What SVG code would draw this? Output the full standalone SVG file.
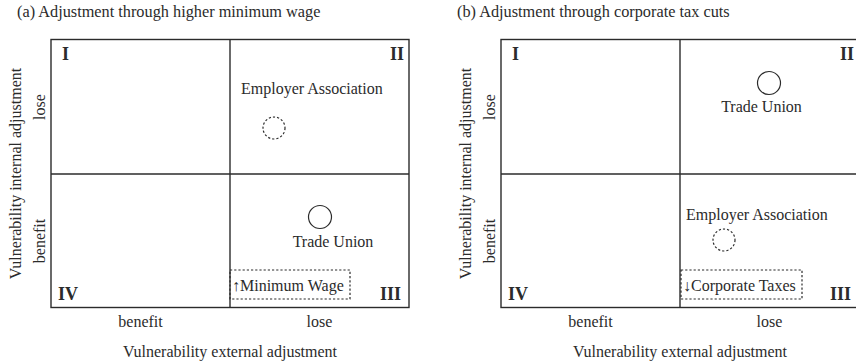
<svg xmlns="http://www.w3.org/2000/svg" width="856" height="364" viewBox="0 0 856 364">
<style>
text{font-family:"Liberation Serif","Times New Roman",serif;fill:#2b2b2b}
.t{font-size:16.3px}
.l{font-size:16px}
.n{font-size:18px;font-weight:bold}
.box{fill:none;stroke:#2b2b2b;stroke-width:1.4}
.solid{fill:none;stroke:#2b2b2b;stroke-width:1.2}
.dash{fill:none;stroke:#2b2b2b;stroke-width:1.2;stroke-dasharray:2.2 2}
.m{text-anchor:middle}
.e{text-anchor:end}
</style>
<g id="panel-a">
<text class="t" x="17" y="17">(a) Adjustment through higher minimum wage</text>
<g id="grid-a">
<rect class="box" x="51" y="39.5" width="358" height="268"/>
<line class="box" x1="230" y1="39.5" x2="230" y2="307.5"/>
<line class="box" x1="51" y1="174" x2="409" y2="174"/>
</g>
<text class="n" x="62" y="60">I</text>
<text class="n e" x="404" y="60">II</text>
<text class="n" x="58" y="300">IV</text>
<text class="n e" x="401" y="300">III</text>
<g id="employer-a">
<text class="l" x="241" y="94">Employer Association</text>
<circle class="dash" cx="274" cy="128" r="11"/>
</g>
<g id="union-a">
<circle class="solid" cx="320" cy="217" r="11.5"/>
<text class="l m" x="333" y="247">Trade Union</text>
</g>
<g id="policy-a">
<rect class="dash" x="230" y="270" width="120" height="29"/>
<text class="l" x="232" y="291">↑Minimum Wage</text>
</g>
<text class="l m" x="140.5" y="327">benefit</text>
<text class="l m" x="319.5" y="327">lose</text>
<text class="l m" x="230" y="357">Vulnerability external adjustment</text>
<text class="l m" transform="translate(21,173.5) rotate(-90)">Vulnerability internal adjustment</text>
<text class="l m" transform="translate(45,107) rotate(-90)">lose</text>
<text class="l m" transform="translate(45,241) rotate(-90)">benefit</text>
</g>
<g id="panel-b">
<text class="t" x="457" y="17">(b) Adjustment through corporate tax cuts</text>
<g id="grid-b">
<rect class="box" x="501" y="39.5" width="358" height="268"/>
<line class="box" x1="680" y1="39.5" x2="680" y2="307.5"/>
<line class="box" x1="501" y1="174" x2="859" y2="174"/>
</g>
<text class="n" x="512" y="60">I</text>
<text class="n e" x="854" y="60">II</text>
<text class="n" x="508" y="300">IV</text>
<text class="n e" x="851" y="300">III</text>
<g id="union-b">
<circle class="solid" cx="769" cy="83" r="11.5"/>
<text class="l m" x="761.5" y="112">Trade Union</text>
</g>
<g id="employer-b">
<text class="l" x="686" y="220">Employer Association</text>
<circle class="dash" cx="724" cy="240" r="11"/>
</g>
<g id="policy-b">
<rect class="dash" x="681" y="270" width="121" height="29"/>
<text class="l" x="683" y="291">↓Corporate Taxes</text>
</g>
<text class="l m" x="590.5" y="327">benefit</text>
<text class="l m" x="769.5" y="327">lose</text>
<text class="l m" x="680" y="357">Vulnerability external adjustment</text>
<text class="l m" transform="translate(471,173.5) rotate(-90)">Vulnerability internal adjustment</text>
<text class="l m" transform="translate(495,107) rotate(-90)">lose</text>
<text class="l m" transform="translate(495,241) rotate(-90)">benefit</text>
</g>
</svg>
